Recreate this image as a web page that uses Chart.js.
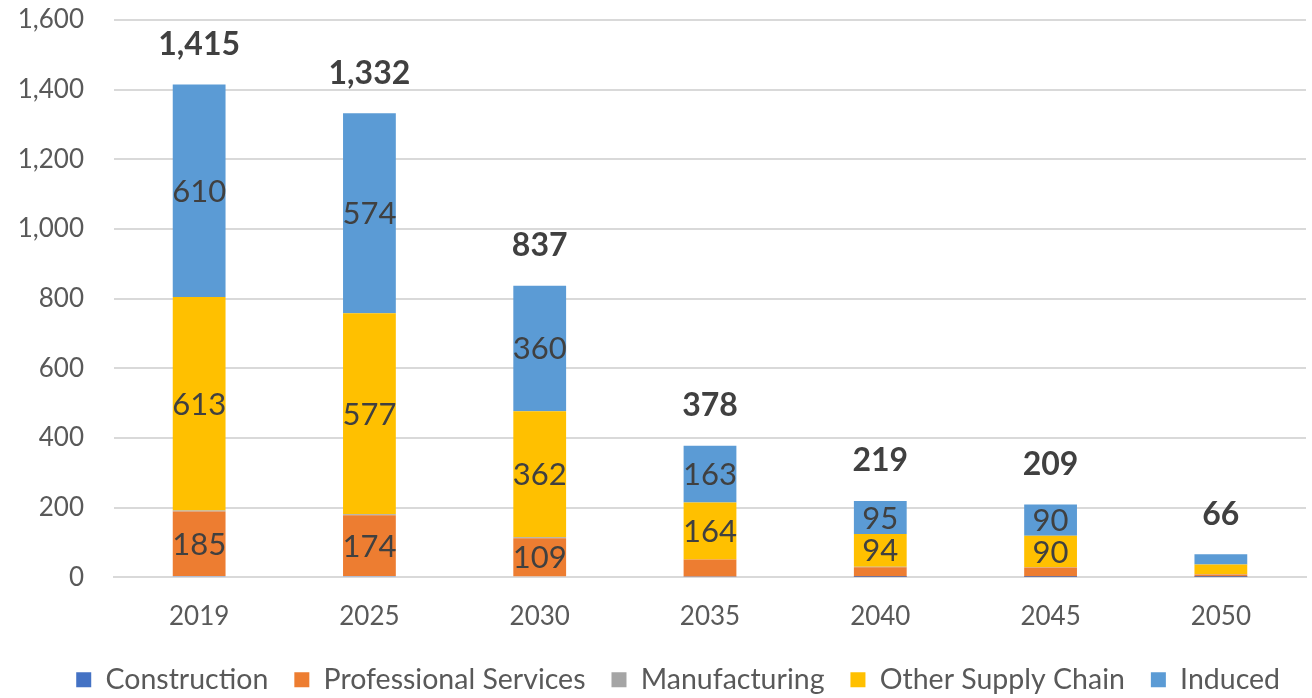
<!DOCTYPE html>
<html>
<head>
<meta charset="utf-8">
<script src="https://cdn.jsdelivr.net/npm/chart.js@4.4.0/dist/chart.umd.min.js"></script>
<style>
  html, body { margin: 0; padding: 0; background: #fff; }
  #wrap { width: 1312px; height: 698px; position: relative; }
</style>
</head>
<body>
<div id="wrap"><canvas id="chart"></canvas></div>
<script>
const years = ['2019', '2025', '2030', '2035', '2040', '2045', '2050'];

const construction = [4, 4, 3, 2, 1, 1, 1];
const professional = [185, 174, 109, 49, 28, 27, 7];
const manufacturing = [3, 3, 3, 0, 1, 1, 1];
const otherSupply = [613, 577, 362, 164, 94, 90, 28];
const induced = [610, 574, 360, 163, 95, 90, 29];
const totals = [1415, 1332, 837, 378, 219, 209, 66];

const yTicks = [0, 200, 400, 600, 800, 1000, 1200, 1400, 1600];

const FONT = 'Lato, "Open Sans", sans-serif';
const LABEL_MIN = 80;

const BAR_STYLE = {
  barPercentage: 0.62,
  categoryPercentage: 0.5,
  borderWidth: 0,
};

const makeSet = (label, data, color, showLabels) => ({
  label,
  data,
  backgroundColor: color,
  showLabels,
  ...BAR_STYLE,
});

// value inside the big segments + bold total above each stack
const labelsPlugin = {
  id: 'stackLabels',
  afterDatasetsDraw(chart) {
    const { ctx } = chart;
    const yScale = chart.scales.y;
    ctx.save();
    ctx.textAlign = 'center';
    ctx.textBaseline = 'middle';

    chart.data.datasets.forEach((ds, di) => {
      if (!ds.showLabels) return;
      const meta = chart.getDatasetMeta(di);
      meta.data.forEach((bar, i) => {
        const v = ds.data[i];
        if (v < LABEL_MIN) return;
        const mid = (bar.y + bar.base) / 2;
        ctx.font = '31px ' + FONT;
        ctx.fillStyle = '#404040';
        ctx.fillText(String(v), bar.x, mid + 1);
      });
    });

    const meta0 = chart.getDatasetMeta(0);
    meta0.data.forEach((bar, i) => {
      const top = yScale.getPixelForValue(totals[i]);
      ctx.font = 'bold 32px ' + FONT;
      ctx.fillStyle = '#404040';
      ctx.fillText(totals[i].toLocaleString('en-US'), bar.x, top - 40);
    });
    ctx.restore();
  },
};

new Chart(document.getElementById('chart'), {
  type: 'bar',
  data: {
    labels: years,
    datasets: [
      makeSet('Construction', construction, '#4472C4', false),
      makeSet('Professional Services', professional, '#ED7D31', true),
      makeSet('Manufacturing', manufacturing, '#A5A5A5', false),
      makeSet('Other Supply Chain', otherSupply, '#FFC000', true),
      makeSet('Induced', induced, '#5B9BD5', true),
    ],
  },
  options: {
    responsive: true,
    maintainAspectRatio: false,
    animation: false,
    layout: { padding: { top: 0, right: 6, left: 0, bottom: -6 } },
    plugins: {
      legend: {
        position: 'bottom',
        align: 'end',
        // empty title, only used as a spacer above the items
        title: {
          display: true,
          text: '',
          font: { size: 5, lineHeight: 1 },
          padding: 1,
        },
        labels: {
          font: { family: FONT, size: 28.5 },
          color: '#595959',
          boxWidth: 15,
          boxHeight: 15,
          padding: 26,
        },
      },
      tooltip: { enabled: false },
    },
    scales: {
      x: {
        stacked: true,
        grid: { display: false },
        border: { color: '#D9D9D9', width: 2 },
        afterFit: (axis) => {
          axis.height -= 16;
        },
        ticks: {
          font: { family: FONT, size: 26 },
          color: '#595959',
          padding: 16,
        },
      },
      y: {
        stacked: true,
        min: 0,
        max: 1600,
        afterBuildTicks: (axis) => {
          axis.ticks = yTicks.map((v) => ({ value: v }));
        },
        afterFit: (axis) => {
          axis.width = 114;
          // tick padding is only meant to push labels left, not down
          axis.paddingTop = 20;
          axis.paddingBottom = 14;
        },
        grid: { color: '#D9D9D9', lineWidth: 2, drawTicks: false },
        border: { display: false },
        ticks: {
          font: { family: FONT, size: 26 },
          color: '#595959',
          padding: 30,
          callback: (v) => v.toLocaleString('en-US'),
        },
      },
    },
  },
  plugins: [labelsPlugin],
});
</script>
</body>
</html>
